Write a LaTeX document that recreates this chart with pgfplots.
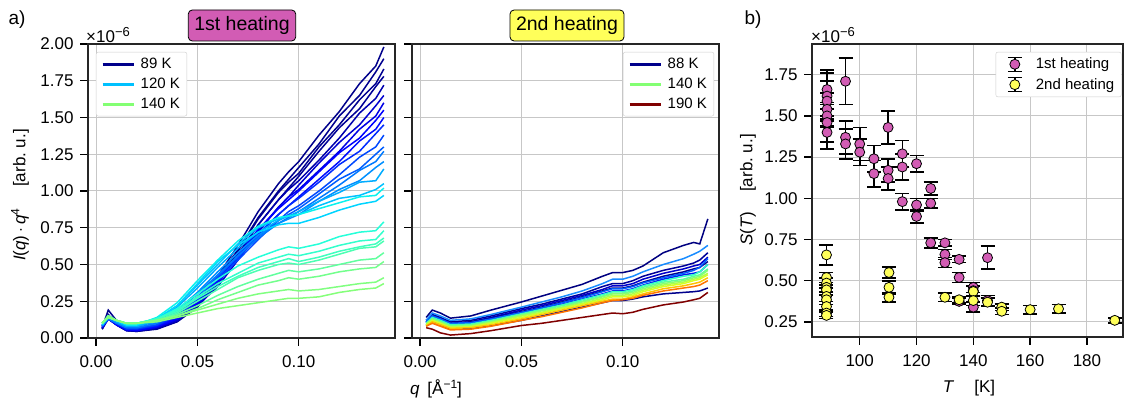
\documentclass[border=0pt]{standalone}
\usepackage{fontspec}
\setmainfont{Liberation Sans}
\usepackage{pgfplots}
\pgfplotsset{compat=1.18}
\usepackage{pgfplotstable}

% jet colours, one per curve
\definecolor{cN1}{rgb}{0,0,0.545}
\definecolor{cN2}{rgb}{0,0,0.56}
\definecolor{cN3}{rgb}{0,0,0.57}
\definecolor{cN4}{rgb}{0,0,0.589}
\definecolor{cN5}{rgb}{0,0,0.678}
\definecolor{cN6}{rgb}{0,0,0.812}
\definecolor{cN7}{rgb}{0,0,0.90}
\definecolor{cB8}{rgb}{0,0,1}
\definecolor{cB9}{rgb}{0,0.047,1}
\definecolor{cB10}{rgb}{0,0.167,1}
\definecolor{cB11}{rgb}{0,0.284,1}
\definecolor{cB12}{rgb}{0,0.363,1}
\definecolor{cB13}{rgb}{0,0.48,1}
\definecolor{cC14}{rgb}{0,0.559,1}
\definecolor{cC15}{rgb}{0,0.676,1}
\definecolor{cC16}{rgb}{0,0.755,1}
\definecolor{cC17}{rgb}{0,0.833,1}
\definecolor{cC18}{rgb}{0.04,0.95,0.93}
\definecolor{cG19}{rgb}{0.15,1,0.85}
\definecolor{cG20}{rgb}{0.2,1,0.8}
\definecolor{cG21}{rgb}{0.25,1,0.75}
\definecolor{cG22}{rgb}{0.3,1,0.7}
\definecolor{cG23}{rgb}{0.38,1,0.62}
\definecolor{cG24}{rgb}{0.45,1,0.55}
\definecolor{cG25}{rgb}{0.5,1,0.5}
\definecolor{cG26}{rgb}{0.52,1,0.48}

\definecolor{cA}{rgb}{0,0,0.5}
\definecolor{cB}{rgb}{0.1,0.55,1}
\definecolor{cC}{rgb}{0,0,0.6}
\definecolor{cD}{rgb}{0,0,0.8}
\definecolor{cE}{rgb}{0,0,0.55}
\definecolor{cF}{rgb}{0,0.36,1}
\definecolor{cG}{rgb}{0,0.1,0.95}
\definecolor{cH}{rgb}{0.2,1,0.77}
\definecolor{cI}{rgb}{0.36,1,0.61}
\definecolor{cJ}{rgb}{0.52,1,0.45}
\definecolor{cK}{rgb}{0.67,1,0.3}
\definecolor{cL}{rgb}{0.83,1,0.14}
\definecolor{cM}{rgb}{1,0.76,0}
\definecolor{cN}{rgb}{1,0.45,0}
\definecolor{cO}{rgb}{0,0,0.55}
\definecolor{cP}{rgb}{0.5,0,0}

\definecolor{leg89}{rgb}{0,0,0.545}
\definecolor{leg120}{rgb}{0,0.755,1}
\definecolor{leg140}{rgb}{0.515,1,0.452}
\definecolor{leg190}{rgb}{0.5,0,0}
\definecolor{hmag}{RGB}{210,92,180}
\definecolor{hyel}{RGB}{255,255,90}

% 1st heating, I(q) q^4 in 1e-6
\pgfplotstableread{
q N1 N2 N3 N4 N5 N6 N7 B8 B9 B10 B11 B12 B13 C14 C15 C16 C17 C18 G19 G20 G21 G22 G23 G24 G25 G26
0.003 0.07 0.06 0.07 0.06 0.07 0.07 0.08 0.07 0.08 0.08 0.08 0.09 0.08 0.09 0.09 0.09 0.09 0.10 0.10 0.10 0.10 0.10 0.10 0.10 0.10 0.10
0.006 0.19 0.16 0.14 0.13 0.14 0.13 0.14 0.13 0.14 0.13 0.14 0.14 0.13 0.14 0.15 0.15 0.14 0.15 0.15 0.14 0.15 0.14 0.15 0.14 0.15 0.14
0.010 0.12 0.10 0.09 0.09 0.10 0.09 0.10 0.09 0.10 0.10 0.10 0.11 0.10 0.11 0.11 0.12 0.12 0.12 0.12 0.12 0.12 0.12 0.12 0.12 0.12 0.12
0.015 0.06 0.055 0.05 0.05 0.055 0.05 0.06 0.055 0.06 0.06 0.07 0.07 0.07 0.08 0.08 0.09 0.09 0.09 0.10 0.10 0.10 0.10 0.10 0.10 0.10 0.10
0.020 0.05 0.05 0.045 0.045 0.05 0.05 0.055 0.05 0.06 0.06 0.065 0.07 0.07 0.08 0.08 0.085 0.09 0.09 0.10 0.10 0.10 0.10 0.10 0.10 0.10 0.10
0.030 0.07 0.07 0.065 0.06 0.065 0.07 0.075 0.075 0.08 0.085 0.09 0.10 0.10 0.11 0.12 0.13 0.13 0.14 0.13 0.13 0.13 0.12 0.12 0.12 0.12 0.11
0.040 0.13 0.12 0.12 0.11 0.115 0.12 0.13 0.13 0.14 0.15 0.16 0.17 0.18 0.19 0.21 0.22 0.22 0.24 0.20 0.19 0.18 0.17 0.16 0.15 0.15 0.14
0.050 0.24 0.23 0.22 0.21 0.22 0.22 0.23 0.24 0.25 0.26 0.27 0.28 0.30 0.31 0.34 0.36 0.37 0.39 0.30 0.28 0.27 0.25 0.22 0.20 0.19 0.17
0.060 0.42 0.41 0.38 0.37 0.38 0.35 0.37 0.39 0.38 0.41 0.40 0.42 0.43 0.45 0.48 0.50 0.52 0.53 0.40 0.37 0.35 0.33 0.29 0.26 0.23 0.20
0.070 0.63 0.60 0.59 0.56 0.57 0.53 0.55 0.56 0.54 0.56 0.53 0.55 0.56 0.58 0.61 0.64 0.63 0.66 0.49 0.44 0.42 0.41 0.35 0.31 0.27 0.22
0.080 0.86 0.82 0.81 0.77 0.77 0.72 0.73 0.74 0.70 0.71 0.67 0.69 0.68 0.70 0.72 0.75 0.72 0.76 0.55 0.51 0.48 0.46 0.40 0.36 0.30 0.24
0.090 1.05 1.00 0.99 0.94 0.94 0.89 0.89 0.88 0.84 0.84 0.80 0.80 0.78 0.78 0.80 0.81 0.77 0.82 0.60 0.55 0.52 0.50 0.44 0.39 0.32 0.26
0.095 1.13 1.08 1.06 1.02 1.01 0.96 0.96 0.94 0.90 0.90 0.86 0.84 0.82 0.81 0.83 0.83 0.78 0.83 0.62 0.57 0.54 0.51 0.46 0.41 0.33 0.27
0.100 1.20 1.16 1.12 1.10 1.07 1.04 1.01 1.00 0.96 0.95 0.90 0.88 0.86 0.84 0.86 0.84 0.78 0.84 0.61 0.56 0.52 0.50 0.45 0.40 0.32 0.27
0.110 1.38 1.32 1.30 1.27 1.21 1.19 1.14 1.13 1.08 1.06 1.00 0.98 0.95 0.93 0.93 0.90 0.82 0.88 0.64 0.59 0.55 0.53 0.47 0.42 0.33 0.28
0.120 1.54 1.51 1.45 1.43 1.36 1.33 1.27 1.26 1.20 1.18 1.11 1.08 1.04 1.01 0.99 0.95 0.87 0.92 0.69 0.63 0.59 0.57 0.50 0.45 0.35 0.31
0.130 1.73 1.65 1.62 1.56 1.53 1.45 1.42 1.36 1.34 1.27 1.23 1.15 1.14 1.07 1.06 0.97 0.91 0.96 0.72 0.66 0.62 0.61 0.53 0.47 0.37 0.33
0.138 1.85 1.81 1.73 1.71 1.63 1.58 1.51 1.48 1.42 1.39 1.30 1.25 1.20 1.16 1.07 1.01 0.93 0.97 0.73 0.67 0.64 0.62 0.54 0.48 0.38 0.34
0.142 1.98 1.90 1.83 1.78 1.72 1.65 1.60 1.55 1.50 1.45 1.38 1.30 1.27 1.20 1.15 1.05 0.97 1.02 0.79 0.73 0.68 0.66 0.58 0.52 0.41 0.37
}\heatA

% 2nd heating
\pgfplotstableread{
q A B C D E F G H I J K L M N O P
0.003 0.14 0.12 0.12 0.11 0.11 0.11 0.10 0.10 0.10 0.09 0.09 0.09 0.08 0.08 0.09 0.07
0.006 0.19 0.17 0.16 0.15 0.15 0.15 0.14 0.14 0.13 0.13 0.12 0.12 0.11 0.10 0.11 0.06
0.010 0.17 0.15 0.14 0.13 0.13 0.13 0.12 0.12 0.11 0.11 0.10 0.10 0.09 0.08 0.09 0.035
0.015 0.135 0.12 0.11 0.10 0.10 0.10 0.095 0.09 0.085 0.08 0.075 0.07 0.065 0.055 0.06 0.02
0.025 0.15 0.13 0.12 0.11 0.11 0.105 0.10 0.095 0.09 0.085 0.08 0.075 0.07 0.06 0.065 0.03
0.035 0.19 0.16 0.15 0.14 0.135 0.13 0.125 0.12 0.115 0.11 0.105 0.10 0.09 0.08 0.085 0.05
0.050 0.245 0.21 0.20 0.19 0.18 0.175 0.17 0.165 0.16 0.155 0.15 0.14 0.13 0.12 0.12 0.085
0.060 0.285 0.245 0.23 0.22 0.21 0.205 0.20 0.195 0.19 0.185 0.175 0.17 0.16 0.145 0.15 0.10
0.070 0.325 0.28 0.265 0.255 0.245 0.24 0.23 0.225 0.22 0.21 0.205 0.20 0.19 0.175 0.18 0.12
0.080 0.365 0.32 0.30 0.29 0.28 0.275 0.265 0.26 0.25 0.245 0.235 0.23 0.22 0.205 0.21 0.14
0.090 0.42 0.37 0.35 0.33 0.32 0.315 0.30 0.295 0.285 0.28 0.27 0.26 0.25 0.24 0.24 0.16
0.095 0.445 0.40 0.37 0.355 0.34 0.335 0.32 0.315 0.305 0.30 0.29 0.28 0.265 0.255 0.255 0.17
0.100 0.445 0.40 0.37 0.355 0.34 0.335 0.32 0.315 0.305 0.30 0.29 0.28 0.265 0.26 0.255 0.165
0.105 0.46 0.42 0.39 0.37 0.355 0.35 0.335 0.33 0.32 0.31 0.30 0.29 0.28 0.27 0.265 0.175
0.110 0.49 0.45 0.42 0.40 0.38 0.375 0.36 0.355 0.345 0.335 0.325 0.315 0.30 0.29 0.28 0.195
0.120 0.58 0.50 0.46 0.44 0.42 0.41 0.40 0.39 0.38 0.37 0.36 0.35 0.335 0.32 0.30 0.225
0.130 0.63 0.54 0.49 0.47 0.45 0.44 0.43 0.42 0.40 0.39 0.38 0.37 0.355 0.34 0.31 0.245
0.135 0.65 0.57 0.51 0.49 0.47 0.46 0.44 0.43 0.42 0.41 0.40 0.39 0.37 0.35 0.315 0.26
0.138 0.64 0.59 0.53 0.50 0.48 0.48 0.45 0.45 0.43 0.42 0.41 0.40 0.38 0.36 0.32 0.27
0.142 0.81 0.63 0.58 0.55 0.52 0.54 0.50 0.50 0.47 0.46 0.44 0.43 0.41 0.39 0.34 0.31
}\heatB

% S(T), 1st heating
\pgfplotstableread{
T S e
88.5 1.66 0.12
88.5 1.62 0.14
88.5 1.59 0.12
88.5 1.54 0.10
88.5 1.50 0.07
88.5 1.46 0.12
88.5 1.40 0.10
95 1.71 0.14
95 1.37 0.10
95 1.33 0.09
100 1.33 0.10
100 1.28 0.08
105 1.24 0.08
105 1.15 0.08
110 1.43 0.10
110 1.17 0.07
110 1.12 0.07
115 1.27 0.08
115 1.19 0.08
115 0.98 0.05
120 1.21 0.05
120 0.96 0.04
120 0.89 0.04
125 1.06 0.04
125 0.97 0.03
125 0.73 0.03
130 0.73 0.02
130 0.66 0.03
130 0.61 0.03
135 0.63 0.02
135 0.52 0.03
135 0.375 0.02
140 0.46 0.03
140 0.44 0.03
140 0.34 0.03
145 0.64 0.07
145 0.38 0.03
}\firstheat

% S(T), 2nd heating
\pgfplotstableread{
T S e
88.3 0.657 0.06
88.3 0.52 0.03
88.3 0.486 0.03
88.3 0.46 0.03
88.3 0.445 0.03
88.3 0.405 0.03
88.3 0.385 0.03
88.3 0.344 0.03
88.3 0.304 0.02
88.3 0.29 0.02
110.3 0.55 0.035
110.3 0.46 0.04
110.3 0.40 0.03
130 0.40 0.025
135 0.385 0.02
140 0.435 0.03
140 0.38 0.03
145 0.37 0.025
150 0.34 0.02
150 0.315 0.02
160 0.325 0.025
170 0.33 0.025
189.8 0.26 0.015
}\secondheat

\tikzset{tnum/.style={font=\fontsize{17}{20}\selectfont}}

\pgfplotsset{
  panel/.style={
    scale only axis, anchor=south west,
    axis line style={black!85, line width=1.2pt},
    grid=major, grid style={black!22, line width=1pt},
    tick align=outside, major tick length=8pt,
    tick style={black, line width=1.3pt},
    xtick pos=left, ytick pos=left,
    tick label style={font=\fontsize{17}{20}\selectfont},
    xticklabel style={yshift=-6pt},
    yticklabel style={xshift=-3pt},
    /pgf/number format/assume math mode=true,
    scaled ticks=false,
  },
  qpanel/.style={
    panel, width=307pt, height=294pt,
    xmin=-0.004, xmax=0.1475, ymin=0, ymax=2,
    xtick={0,0.05,0.1}, ytick={0,0.25,0.5,0.75,1,1.25,1.5,1.75,2},
    xticklabel style={/pgf/number format/.cd, fixed, fixed zerofill, precision=2},
    yticklabel style={/pgf/number format/.cd, fixed, fixed zerofill, precision=2},
    legend style={draw=black!20, rounded corners=2pt, fill=white,
      font=\fontsize{15}{17}\selectfont, row sep=4pt,
      inner xsep=5pt, inner ysep=4pt, cells={anchor=west}},
    legend image code/.code={\draw[#1] (0pt,0pt) -- (31pt,0pt); \path[draw=none] (0pt,0pt) -- (36pt,0pt);},
  },
}

\begin{document}
\begin{tikzpicture}[x=1pt,y=1pt]
\path[use as bounding box] (0,0) rectangle (1125,404);

% a) 1st heating
\begin{axis}[qpanel, at={(88pt,66pt)},
  legend style={at={(0.026,0.973)}, anchor=north west}]
\addlegendimage{leg89, line width=3pt}\addlegendentry{89 K}
\addlegendimage{leg120, line width=3pt}\addlegendentry{120 K}
\addlegendimage{leg140, line width=3pt}\addlegendentry{140 K}
\pgfplotsinvokeforeach{N1,N2,N3,N4,N5,N6,N7,B8,B9,B10,B11,B12,B13,C14,C15,C16,C17,C18,G19,G20,G21,G22,G23,G24,G25,G26}{
  \addplot[c#1, line width=1.5pt, forget plot] table[x=q, y=#1] {\heatA};
}
\end{axis}

% a) 2nd heating
\begin{axis}[qpanel, at={(412pt,66pt)}, yticklabels={},
  legend style={at={(0.984,0.973)}, anchor=north east}]
\addlegendimage{leg89, line width=3pt}\addlegendentry{88 K}
\addlegendimage{leg140, line width=3pt}\addlegendentry{140 K}
\addlegendimage{leg190, line width=3pt}\addlegendentry{190 K}
\pgfplotsinvokeforeach{A,C,D,E,G,O,B,F,H,I,J,K,L,M,N,P}{
  \addplot[c#1, line width=1.5pt, forget plot] table[x=q, y=#1] {\heatB};
}
\end{axis}

% b) S(T)
\begin{axis}[panel, at={(812pt,67pt)}, width=311pt, height=293pt,
  xmin=83.2, xmax=192.7, ymin=0.159, ymax=1.936,
  xtick={100,120,...,180}, ytick={0.25,0.5,0.75,1,1.25,1.5,1.75},
  yticklabel style={/pgf/number format/.cd, fixed, fixed zerofill, precision=2},
  legend style={at={(0.995,0.973)}, anchor=north east, draw=black!20,
    rounded corners=2pt, fill=white, font=\fontsize{15}{17}\selectfont,
    row sep=4pt, inner xsep=5pt, inner ysep=4pt, cells={anchor=west}},
  legend image code/.code={
    \draw[draw=black, line width=1.5pt] (14pt,-7pt) -- (14pt,7pt)
      (7pt,-7pt) -- (21pt,-7pt) (7pt,7pt) -- (21pt,7pt);
    \path[#1, draw=none] plot coordinates {(14pt,0pt)};
    \path[draw=none] (0pt,0pt) -- (33pt,0pt);
  },
]
\addplot[only marks, mark=*, mark size=5pt,
  mark options={fill=hmag, draw=black, line width=0.8pt},
  error bars/.cd, y dir=both, y explicit,
  error bar style={black, line width=1.6pt},
  error mark options={rotate=90, mark size=7pt, black, line width=1.6pt}]
  table[x=T, y=S, y error=e] {\firstheat};
\addlegendentry{1st heating}
\addplot[only marks, mark=*, mark size=5pt,
  mark options={fill=hyel, draw=black, line width=0.8pt},
  error bars/.cd, y dir=both, y explicit,
  error bar style={black, line width=1.6pt},
  error mark options={rotate=90, mark size=7pt, black, line width=1.6pt}]
  table[x=T, y=S, y error=e] {\secondheat};
\addlegendentry{2nd heating}
\end{axis}

% titles, labels
\node[font=\fontsize{19}{22}\selectfont] at (17,384) {a)};
\node[font=\fontsize{19}{22}\selectfont] at (753,384) {b)};
\node[fill=hmag, draw=black, rounded corners=4pt, line width=0.8pt,
  minimum height=31pt, inner xsep=6pt, font=\fontsize{19.5}{22}\selectfont]
  at (242,378.5) {1st heating};
\node[fill=hyel, draw=black, rounded corners=4pt, line width=0.8pt,
  minimum height=31pt, inner xsep=6pt, font=\fontsize{19.5}{22}\selectfont]
  at (567,378.5) {2nd heating};
\node[tnum, anchor=west, inner sep=0pt] at (86,369)
  {×10\raisebox{6pt}{\fontsize{13}{15}\selectfont −6}};
\node[tnum, anchor=west, inner sep=0pt] at (811,369)
  {×10\raisebox{6pt}{\fontsize{13}{15}\selectfont −6}};
\node[tnum, rotate=90] at (20,209)
  {\textit{I}(\textit{q})\,$\cdot$\,\textit{q}\raisebox{6pt}{\fontsize{12}{14}\selectfont 4}\hspace{22pt}[arb.~u.]};
\node[tnum, anchor=base] at (436,9) {\textit{q}\hspace{8pt}[Å\raisebox{6pt}{\fontsize{12}{14}\selectfont −1}]};
\node[tnum, rotate=90] at (748,214) {\textit{S}(\textit{T})\hspace{20pt}[arb.~u.]};
\node[tnum, anchor=base] at (969,11) {\textit{T}\hspace{20pt}[K]};
\end{tikzpicture}
\end{document}
